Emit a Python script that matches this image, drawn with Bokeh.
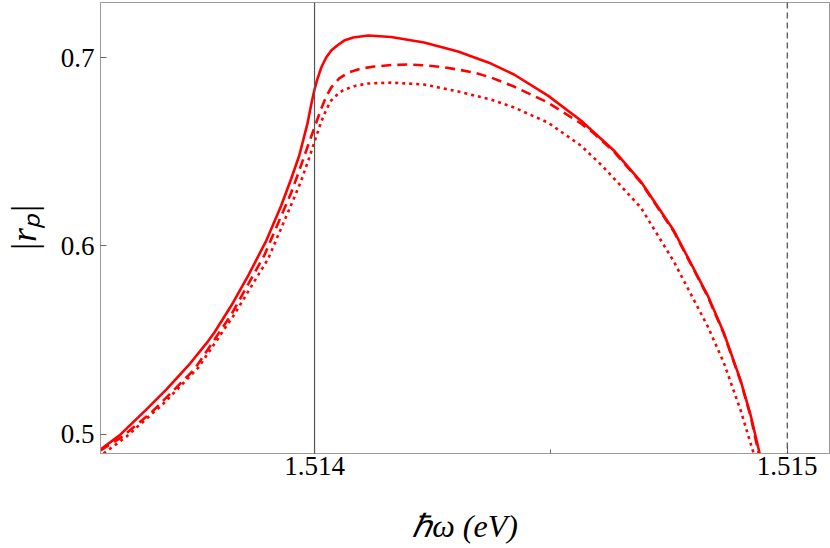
from bokeh.plotting import figure
from bokeh.models import Span, FixedTicker, PrintfTickFormatter, Range1d
from bokeh.embed import file_html
from bokeh.resources import INLINE

# photon energy (eV) and |r_p|
x_solid = [1.5135472, 1.5135874, 1.5136444, 1.5136867, 1.5137332, 1.5137712, 1.5137881,
           1.5138240, 1.5138599, 1.5138980, 1.5139296, 1.5139508, 1.5139677, 1.5139846,
           1.5139930, 1.5139994, 1.5140057, 1.5140142, 1.5140247, 1.5140353, 1.5140480,
           1.5140627, 1.5140818, 1.5141135, 1.5141621, 1.5142318, 1.5143036, 1.5143733,
           1.5144219, 1.5144938, 1.5145635, 1.5146332, 1.5146903, 1.5147600, 1.5148318,
           1.5148656, 1.5149015, 1.5149227, 1.5149417]
y_solid = [0.4920, 0.4995, 0.5133, 0.5239, 0.5366, 0.5483, 0.5541,
           0.5684, 0.5844, 0.6029, 0.6215, 0.6358, 0.6480, 0.6645,
           0.6751, 0.6825, 0.6883, 0.6947, 0.7000, 0.7037, 0.7064,
           0.7090, 0.7106, 0.7117, 0.7109, 0.7080, 0.7032, 0.6968,
           0.6910, 0.6798, 0.6666, 0.6507, 0.6342, 0.6082, 0.5737,
           0.5541, 0.5286, 0.5101, 0.4899]

x_dashed = [1.5135472, 1.5135937, 1.5136550, 1.5137458, 1.5138240, 1.5138937, 1.5139508,
            1.5139677, 1.5139825, 1.5139930, 1.5140036, 1.5140142, 1.5140247, 1.5140353,
            1.5140522, 1.5140712, 1.5140987, 1.5141261, 1.5141621, 1.5141980, 1.5142360,
            1.5142677, 1.5143036, 1.5143374, 1.5143733, 1.5144219, 1.5144938, 1.5145635,
            1.5145888, 1.5146332, 1.5146903, 1.5147600, 1.5148318, 1.5148656, 1.5149015,
            1.5149227, 1.5149396]
y_dashed = [0.4915, 0.4989, 0.5117, 0.5345, 0.5637, 0.5950, 0.6284,
            0.6401, 0.6507, 0.6581, 0.6655, 0.6729, 0.6793, 0.6841,
            0.6889, 0.6920, 0.6942, 0.6952, 0.6960, 0.6963, 0.6958,
            0.6950, 0.6936, 0.6920, 0.6894, 0.6846, 0.6761, 0.6650,
            0.6602, 0.6501, 0.6337, 0.6077, 0.5732, 0.5536, 0.5281,
            0.5095, 0.4899]

x_dotted = [1.5135536, 1.5136022, 1.5136803, 1.5137543, 1.5138303, 1.5139022, 1.5139571,
            1.5139719, 1.5139888, 1.5140036, 1.5140142, 1.5140247, 1.5140353, 1.5140501,
            1.5140627, 1.5140881, 1.5141135, 1.5141621, 1.5142318, 1.5143036, 1.5143733,
            1.5144219, 1.5144938, 1.5145635, 1.5146100, 1.5146903, 1.5147600, 1.5148318,
            1.5148656, 1.5149015, 1.5149290]
y_dotted = [0.4899, 0.4989, 0.5164, 0.5355, 0.5637, 0.5934, 0.6257,
            0.6347, 0.6469, 0.6581, 0.6660, 0.6724, 0.6772, 0.6809,
            0.6830, 0.6851, 0.6862, 0.6867, 0.6857, 0.6820, 0.6777,
            0.6735, 0.6655, 0.6533, 0.6422, 0.6204, 0.5918, 0.5573,
            0.5382, 0.5127, 0.4899]

x_ticks = [1.514, 1.515]
x_minor_ticks = [1.5145]
y_ticks = [0.5, 0.6, 0.7]
solid_marker = 1.514
dashed_marker = 1.515

p = figure(width=830, height=548,
           x_range=Range1d(1.5135472, 1.5150894), y_range=Range1d(0.4899, 0.7292),
           output_backend="svg", toolbar_location=None,
           min_border_left=99, min_border_right=1, min_border_top=2, min_border_bottom=95)
p.background_fill_color = "white"
p.border_fill_color = "white"
p.outline_line_color = "#9a9a9a"
p.outline_line_width = 1
p.grid.visible = False

font = "Liberation Serif"
for ax in (p.xaxis[0], p.yaxis[0]):
    ax.axis_line_color = "#9a9a9a"
    ax.major_tick_line_color = "#666666"
    ax.minor_tick_line_color = "#666666"
    ax.major_tick_in = 6
    ax.major_tick_out = 0
    ax.minor_tick_in = 4
    ax.minor_tick_out = 0
    ax.major_label_text_font = font
    ax.major_label_text_font_size = "27px"
    ax.major_label_text_color = "black"
    ax.axis_label_text_font = font
    ax.axis_label_text_font_style = "italic"
    ax.axis_label_text_color = "black"

p.xaxis.axis_label_text_font_size = "32px"
p.yaxis.axis_label_text_font_size = "36px"
p.xaxis.ticker = FixedTicker(ticks=x_ticks, minor_ticks=x_minor_ticks)
p.yaxis.ticker = FixedTicker(ticks=y_ticks, minor_ticks=[])
p.xaxis.formatter = PrintfTickFormatter(format="%.3f")
p.yaxis.formatter = PrintfTickFormatter(format="%.1f")
p.xaxis.major_label_standoff = 3
p.yaxis.major_label_standoff = 6
p.xaxis.axis_label = "\u210fω (eV)"
p.yaxis.axis_label = "|rₚ|"
p.xaxis.axis_label_standoff = 30
p.yaxis.axis_label_standoff = 14

p.add_layout(Span(location=solid_marker, dimension="height", line_color="#555555", line_width=1.2))
p.add_layout(Span(location=dashed_marker, dimension="height", line_color="#222222", line_width=1,
                  line_dash="6 4"))

p.line(x_dotted, y_dotted, line_color="#ff0000", line_width=2.6, line_dash="3 4")
p.line(x_dashed, y_dashed, line_color="#ff0000", line_width=2.6, line_dash="10 6")
p.line(x_solid, y_solid, line_color="#ff0000", line_width=2.6)

open("out.html", "w").write(file_html(p, INLINE))
